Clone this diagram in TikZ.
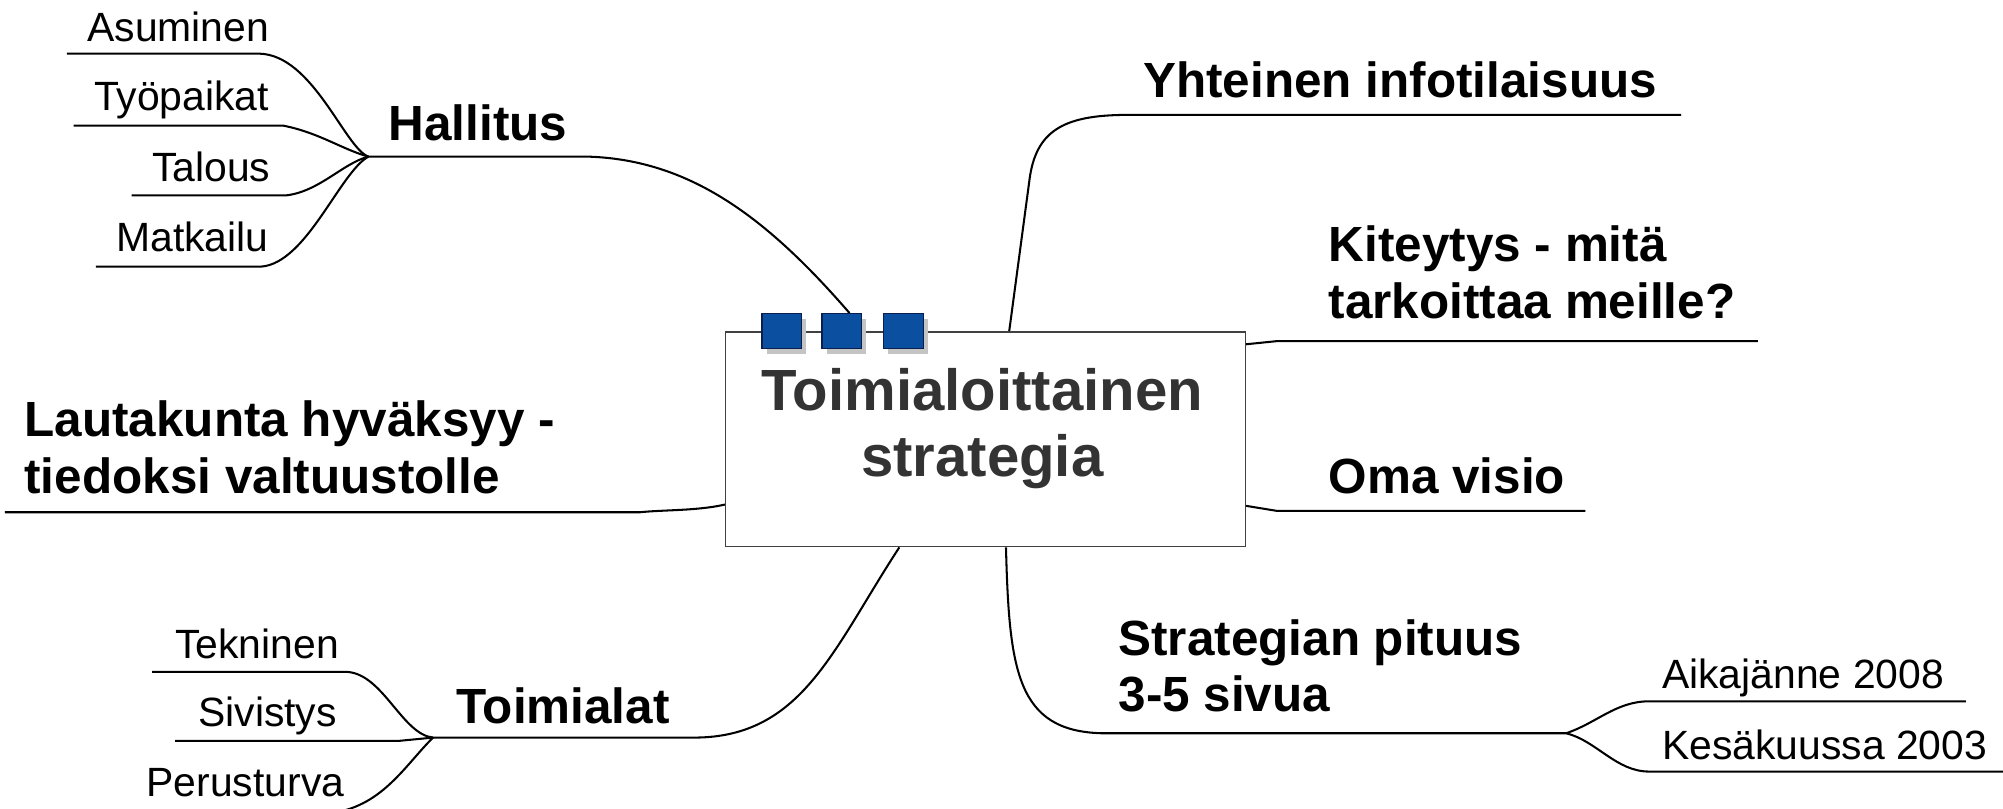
\documentclass[tikz,border=0pt]{standalone}
\usepackage{fontspec}
\setmainfont{Liberation Sans}
\usetikzlibrary{shadows}
\definecolor{sqblue}{HTML}{0B4FA0}
\definecolor{sqedge}{HTML}{0A1F4F}
\definecolor{shadowgray}{HTML}{C4C4C4}
\definecolor{titlegray}{HTML}{333333}
\definecolor{coreedge}{HTML}{404040}
\begin{document}
\begin{tikzpicture}[x=1pt,y=-1pt,
  conn/.style={line width=1.6pt,line join=round,line cap=butt},
  leaf/.style={inner sep=0pt,anchor=base west,font=\fontsize{32}{38}\selectfont},
  topic/.style={inner sep=0pt,anchor=base west,font=\bfseries\fontsize{38.7}{44}\selectfont},
  corebox/.style={draw=coreedge,line width=1pt,fill=white,minimum width=407pt,minimum height=168pt,inner sep=0pt},
  title/.style={inner sep=0pt,anchor=base,text=titlegray,font=\bfseries\fontsize{45.5}{52}\selectfont},
  tab/.style={draw=sqedge,line width=0.9pt,fill=sqblue,minimum width=31pt,minimum height=27pt,inner sep=0pt,
    general shadow={fill=shadowgray,shadow xshift=3.6pt,shadow yshift=-4.4pt}}]
\useasboundingbox (0,0) rectangle (1568,633.3);
\clip (0,0) rectangle (1568,633.3);

% ---------- centre box (placed first so anchors exist) ----------
\node[corebox] (core) at (771.5,344) {};

% ---------- Hallitus group ----------
\node[topic] (hal) at (304,110.2) {Hallitus};
\coordinate (hj) at (288.4,122.6);
\coordinate (halR) at (460,122.6);
\node[leaf] (asu) at (68.2,32.8) {Asuminen};
\coordinate (asuL) at (52.4,42); \coordinate (asuR) at (203,42);
\node[leaf] (tyo) at (73.4,86.6) {Työpaikat};
\coordinate (tyoL) at (57.7,98.4); \coordinate (tyoR) at (222,98.4);
\node[leaf] (tal) at (118.8,141.7) {Talous};
\coordinate (talL) at (103,153); \coordinate (talR) at (223.7,153);
\node[leaf] (mat) at (90.9,196.9) {Matkailu};
\coordinate (matL) at (75,208.7); \coordinate (matR) at (204.5,208.7);

\draw[conn] (asuL) -- (asuR) .. controls (245,43) and (270,116) .. (hj);
\draw[conn] (tyoL) -- (tyoR) .. controls (250,104) and (268,117) .. (hj);
\draw[conn] (talL) -- (talR) .. controls (250,150) and (268,128) .. (hj);
\draw[conn] (matL) -- (matR) .. controls (240,206) and (266,135) .. (hj);

% ---------- Yhteinen infotilaisuus ----------
\node[topic] (yht) at (894.8,76.5) {Yhteinen infotilaisuus};
\coordinate (yhtL) at (877,90); \coordinate (yhtR) at (1316,90);
\draw[conn] ([xshift=18.5pt]core.north) -- (806,140) .. controls (811,103) and (832,91) .. (yhtL) -- (yhtR);

% ---------- Kiteytys ----------
\node[topic] (kit) at (1040,205) {\vtop{\hbox{Kiteytys - mitä}\hbox{tarkoittaa meille?}}};
\coordinate (kitL) at (1000,267); \coordinate (kitR) at (1376,267);
\draw[conn] ([yshift=-10pt]core.north east) -- (kitL) -- (kitR);

% ---------- Oma visio ----------
\node[topic] (oma) at (1040,386) {Oma visio};
\coordinate (omaL) at (1000,400); \coordinate (omaR) at (1241,400);
\draw[conn] ([yshift=-52pt]core.east) -- (omaL) -- (omaR);

% ---------- Lautakunta ----------
\node[topic] (lau) at (19,342) {\vtop{\hbox{Lautakunta hyväksyy -}\hbox{tiedoksi valtuustolle}}};
\coordinate (lauL) at (3.8,401); \coordinate (lauR) at (501,401);
\draw[conn] (lauL) -- (lauR) .. controls (520,399) and (545,400) .. ([yshift=-51pt]core.west);

% ---------- Toimialat group ----------
\node[topic] (toi) at (357,566) {Toimialat};
\coordinate (tj) at (339,577.4);
\coordinate (toiR) at (544,577.4);
\draw[conn] (tj) -- (toiR) .. controls (628,577) and (652,508) .. ([xshift=-67.5pt]core.south);
\node[leaf] (tek) at (137,515.7) {Tekninen};
\coordinate (tekL) at (119,526); \coordinate (tekR) at (272,526);
\draw[conn] (tekL) -- (tekR) .. controls (300,528) and (315,575) .. (tj);
\node[leaf] (siv) at (155,568.4) {Sivistys};
\coordinate (sivL) at (137,580); \coordinate (sivR) at (312,580);
\draw[conn] (sivL) -- (sivR) -- (tj);
\node[leaf] (per) at (114.6,623.7) {Perusturva};
\coordinate (perR) at (262,636);
\draw[conn] (tj) .. controls (318,598) and (300,630) .. (perR);

% ---------- Strategian pituus group ----------
\node[topic] (str) at (875.4,513) {\vtop{\hbox{Strategian pituus}\hbox{3-5 sivua}}};
\coordinate (strL) at (862,574); \coordinate (sj) at (1226,574);
\draw[conn] ([xshift=16pt]core.south) .. controls (790,525) and (796,572) .. (strL) -- (sj);
\node[leaf] (aik) at (1301,539) {Aikajänne 2008};
\coordinate (aikL) at (1291,549); \coordinate (aikR) at (1539,549);
\draw[conn] (sj) .. controls (1250,566) and (1265,549) .. (aikL) -- (aikR);
\node[leaf] (kes) at (1301,594.7) {Kesäkuussa 2003};
\coordinate (kesL) at (1291,604); \coordinate (kesR) at (1575,604);
\draw[conn] (sj) .. controls (1250,580) and (1265,604) .. (kesL) -- (kesR);

% ---------- Hallitus connector to the tabs ----------
\node[tab] (sq1) at (612,259) {};
\node[tab] (sq2) at (659,259) {};
\node[tab] (sq3) at (707.4,259) {};
\draw[conn] (hj) -- (halR) .. controls (540,125) and (600,170) .. ([xshift=6pt]sq2.north);

% redraw box and tabs on top of connectors
\node[corebox] at (core) {};
\node[title] (coretitle) at (769,321) {\vtop{\baselineskip=52pt\halign{\hfil#\hfil\cr Toimialoittainen\cr strategia\cr}}};
\node[tab] at (sq1) {};
\node[tab] at (sq2) {};
\node[tab] at (sq3) {};
\end{tikzpicture}
\end{document}
